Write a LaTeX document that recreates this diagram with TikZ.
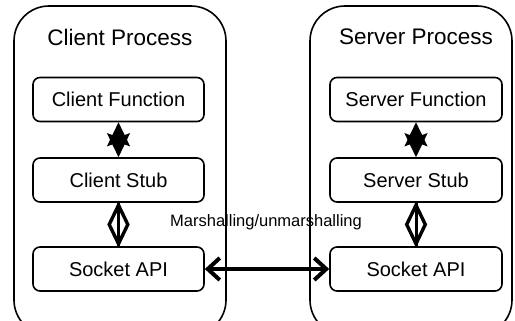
\documentclass[tikz,border=0pt]{standalone}
\usepackage{fontspec}
\setmainfont{Liberation Sans}
\usetikzlibrary{arrows.meta,shapes.geometric}
\tikzset{
  startip/.tip={Stealth[length=24pt,width=23pt,inset=4pt]},
  barbtip/.tip={Straight Barb[length=12pt,width=22pt,line width=4pt]}
}
\begin{document}
\begin{tikzpicture}[x=1pt,y=-1pt,
  procbox/.style={draw,line width=1.6pt,rounded corners=35pt},
  inbox/.style={draw,line width=1.6pt,rounded corners=7pt,minimum width=171pt,minimum height=44pt,font=\fontsize{20pt}{22pt}\selectfont,inner sep=0pt},
  title/.style={font=\fontsize{22.5pt}{26pt}\selectfont,inner sep=0pt},
  diamk/.style={diamond,draw,fill=white,line width=3.4pt,minimum width=20pt,minimum height=40pt,inner sep=0pt,aspect=0.5},
  lbl/.style={font=\fontsize{16.5pt}{19pt}\selectfont,inner sep=0pt}
]
\useasboundingbox (0,0) rectangle (515,321);
\clip (0,0) rectangle (515,321);
% process containers
\draw[procbox] (14,6) rectangle (226,335);
\draw[procbox] (310,6) rectangle (512,335);
\node[title] (ct) at (120,37) {Client Process};
\node[title] (st) at (416,37) {Server Process};
% client side
\node[inbox] (cf) at (118.5,99.5) {Client Function};
\node[inbox] (cs) at (118.5,180) {Client Stub};
\node[inbox] (ca) at (118.5,269) {Socket API};
% server side
\node[inbox,minimum width=172pt] (sf) at (416,99.5) {Server Function};
\node[inbox,minimum width=172pt] (ss) at (416,180) {Server Stub};
\node[inbox,minimum width=172pt] (sa) at (416,269) {Socket API};
% function <-> stub
\draw[line width=1.5pt,{startip}-{startip}] (cf) -- (cs);
\draw[line width=1.5pt,{startip}-{startip}] (sf) -- (ss);
% stub <-> socket
\draw[line width=2pt] (cs) -- (ca) node[midway,diamk] (cd) {};
\draw[line width=3pt] (cs) -- (ca);
\draw[line width=2pt] (ss) -- (sa) node[midway,diamk] (sd) {};
\draw[line width=3pt] (ss) -- (sa);
% network
\draw[line width=4pt,{barbtip}-{barbtip}] (ca) -- (sa);
\node[lbl] (ml) at (266,222) {Marshalling/unmarshalling};
\end{tikzpicture}
\end{document}
